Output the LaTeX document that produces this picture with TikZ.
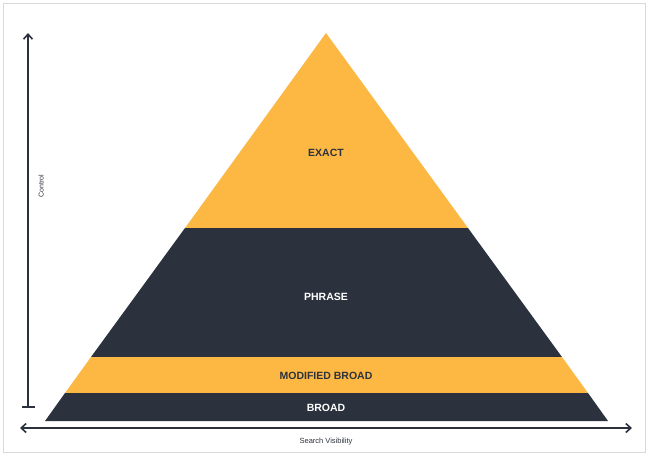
\documentclass[tikz,border=0pt]{standalone}
\usepackage{fontspec}
\setmainfont{Liberation Sans}
\usetikzlibrary{arrows.meta}
\definecolor{gold}{HTML}{FDB844}
\definecolor{navy}{HTML}{2C323D}
\tikzset{band/.style={draw=none},lbl/.style={font=\bfseries\fontsize{10.5}{12}\selectfont,text=navy},
axis/.style={line width=1.6pt,draw=navy,-{Straight Barb[length=5pt,width=9pt]}}}
\begin{document}
\begin{tikzpicture}[x=1pt,y=-1pt]
\useasboundingbox (0,0) rectangle (649,458);
\fill[white] (0,0) rectangle (649,458);
\draw[black!15,line width=0.6pt] (3,3) rectangle (645,452);
\fill[gold] (326,33) -- (185,228) -- (468,228) -- cycle;
\fill[navy] (185,228) -- (468,228) -- (562,357) -- (91,357) -- cycle;
\fill[gold] (91,357) -- (562,357) -- (588,393) -- (65,393) -- cycle;
\fill[navy] (65,393) -- (588,393) -- (608,421) -- (45,421) -- cycle;
\node[lbl] (exact) at (326,153) {EXACT};
\node[lbl,text=white] (phrase) at (326,297) {PHRASE};
\node[lbl] (mod) at (326,376) {MODIFIED BROAD};
\node[lbl,text=white] (broad) at (326,408) {BROAD};
\coordinate (vb) at (28,407);
\coordinate (vt) at (28,33);
\draw[axis] (vb) -- (vt);
\draw[line width=1.6pt,navy] (22,407) -- (35,407);
\coordinate (hl) at (20,428);
\coordinate (hr) at (632,428);
\draw[axis,{Straight Barb[length=5pt,width=9pt]}-{Straight Barb[length=5pt,width=9pt]}] (hl) -- (hr);
\node[rotate=90,font=\fontsize{7}{8}\selectfont,text=navy] (ctrl) at (41,186) {Control};
\node[font=\fontsize{7.5}{9}\selectfont,text=navy] (sv) at (326,442) {Search Visibility};
\end{tikzpicture}
\end{document}
